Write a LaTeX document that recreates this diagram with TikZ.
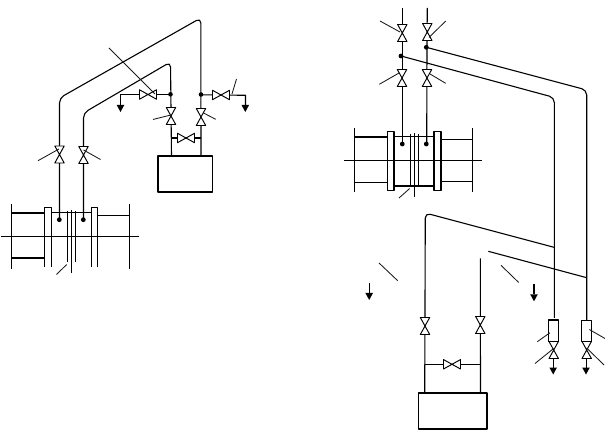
\documentclass[tikz,border=0pt]{standalone}
\tikzset{
  pipe/.style={line width=1.1pt,black,line join=round},
  leader/.style={line width=0.85pt,black!90},
  dot/.style={fill=black,draw=none},
  pipebend/.style={rounded corners=5pt},
  vvalve/.pic={\draw[pipe,line width=0.95pt,fill=white] (-4.7,-8.5)--(4.7,-8.5)--(-4.7,8.5)--(4.7,8.5)--cycle;},
  hvalve/.pic={\draw[pipe,line width=0.95pt,fill=white] (-8.5,-4.7)--(-8.5,4.7)--(8.5,-4.7)--(8.5,4.7)--cycle;},
  drain/.pic={\fill[black] (-3.8,0)--(3.8,0)--(0,7)--cycle;}
}
\begin{document}
\begin{tikzpicture}[x=1pt,y=-1pt]
\useasboundingbox (0,0) rectangle (605,430);
% ---- left: pipes
\draw[pipe,pipebend] (59.5,220)--(59.5,98)--(200.8,18)--(201,156);
\draw[pipe,pipebend] (83.5,220)--(83.5,113)--(170.5,62)--(171.5,156);
\draw[pipe] (120.5,105)--(120.5,94.3)--(170.5,94.3);
\draw[pipe] (201,94.8)--(245.5,95.3)--(245.5,105);
\draw[pipe] (171.5,138)--(201,138);
\pic at (120.5,105) {drain};
\pic at (245.3,105) {drain};
\pic at (59.5,154.5) {vvalve};
\pic at (83.5,155) {vvalve};
\pic at (171,116) {vvalve};
\pic at (201,117) {vvalve};
\pic at (148,94.5) {hvalve};
\pic at (221,95) {hvalve};
\pic at (186,138) {hvalve};
\fill[dot] (170.5,94.3) circle (2.3);
\fill[dot] (201,94.5) circle (2.3);
\draw[pipe] (158,156) rectangle (212.5,192);
\draw[leader] (109,48)--(155,94);
\draw[leader] (236.5,79)--(232,94);
\draw[leader] (153,119.5)--(171,115);
\draw[leader] (203,112.7)--(215.7,119.3);
\draw[leader] (38,160.7)--(59,149);
\draw[leader] (100.5,159.5)--(83.5,150);
% ---- left: flange
\draw[pipe] (1,236.3)--(139,236.3);
\draw[pipe] (11.3,204)--(11.3,268.7) (129.3,204)--(129.3,268.7);
\draw[pipe] (11.3,213)--(45,213) (11.3,258)--(44.5,258) (98,215.5)--(129.3,215.5);
\draw[pipe] (44.5,267)--(44.5,207.5)--(51.3,207.5)--(51.3,267);
\draw[pipe] (91.5,267)--(91.5,207.5)--(97.5,207.5)--(97.5,267);
\draw[pipe] (51.3,212.5)--(91.5,212.5);
\draw[pipe] (67.5,211)--(67.5,262) (71.3,210)--(71.3,273.5) (75.3,211)--(75.3,262);
\fill[dot] (59.3,219.7) circle (2.4) (83.3,219.7) circle (2.4);
\draw[leader] (56.5,274.5)--(66.7,264.5);
% ---- right: upper pipes
\draw[pipe] (402.3,8)--(402.3,144);
\draw[pipe] (427.3,8)--(427,47)--(426.7,144);
\draw[pipe,pipebend] (401,56)--(554.3,97.5)--(554.3,318);
\draw[pipe,pipebend] (426.3,47.3)--(586.7,90)--(586.7,321);
\pic at (402.3,33) {vvalve};
\pic at (427.3,32) {vvalve};
\pic at (402,78) {vvalve};
\pic at (427,78) {vvalve};
\fill[dot] (401,56) circle (2.4);
\fill[dot] (426.3,47.3) circle (2.4);
\draw[leader] (380,21)--(400,32);
\draw[leader] (445.7,21)--(429,37.5);
\draw[leader] (379.3,84.3)--(399,73);
\draw[leader] (445.7,83.3)--(430,74);
% ---- right: flange
\draw[pipe] (344,160.3)--(482,160.3);
\draw[pipe] (354.3,128)--(354.3,192.5) (472.3,128)--(472.3,192.5);
\draw[pipe] (354.3,137)--(388,137) (354.3,182.5)--(388,182.5);
\draw[pipe] (441,139.3)--(472.3,139.3) (441,181.3)--(472.3,181.3);
\draw[pipe] (387.5,131.5) rectangle (394,190.5);
\draw[pipe] (434,131.5) rectangle (441,190.5);
\draw[pipe] (394,136.5)--(434,136.5) (394,186)--(434,186);
\draw[pipe] (410.5,134)--(410.5,186) (414.3,133)--(414.3,197.5) (418.5,134)--(418.5,186);
\fill[dot] (402.3,144) circle (2.4) (426.3,144) circle (2.4);
\draw[leader] (399,198)--(409.7,188.5);
% ---- right: lower pipes
\draw[pipe,pipebend] (554,247.3)--(425.3,213)--(424.7,393);
\draw[pipe] (488.3,251.3)--(586.7,277.7);
\draw[pipe] (480.3,258.3)--(480.5,393);
\draw[pipe] (424.7,364.3)--(480.5,364.3);
\pic at (425,326) {vvalve};
\pic at (480.3,325) {vvalve};
\pic at (452,364.3) {hvalve};
\draw[pipe] (418.5,393) rectangle (487,429);
\draw[leader] (379,263)--(397.7,280.7);
\draw[leader] (501,265.3)--(518.7,282.5);
\draw[pipe] (369.3,283)--(369.3,293);
\pic at (369.2,293) {drain};
\draw[pipe] (534,284)--(534,294.3);
\pic at (534,294.3) {drain};
% ---- right: condensers
\draw[pipe] (548.3,320) rectangle (558.7,341.7);
\draw[pipe] (581.3,320.3) rectangle (591.7,341.7);
\draw[pipe] (553.5,358)--(553.5,368) (586.3,358)--(586.3,368);
\pic at (553.7,350) {vvalve};
\pic at (586.7,350) {vvalve};
\pic at (553.2,367.5) {drain};
\pic at (586,367.5) {drain};
\draw[leader] (537.3,341.7)--(550,332.7);
\draw[leader] (535,363.5)--(553,349);
\draw[leader] (589.3,329.5)--(605,338.5);
\draw[leader] (586.7,348)--(604,365);
\end{tikzpicture}
\end{document}
